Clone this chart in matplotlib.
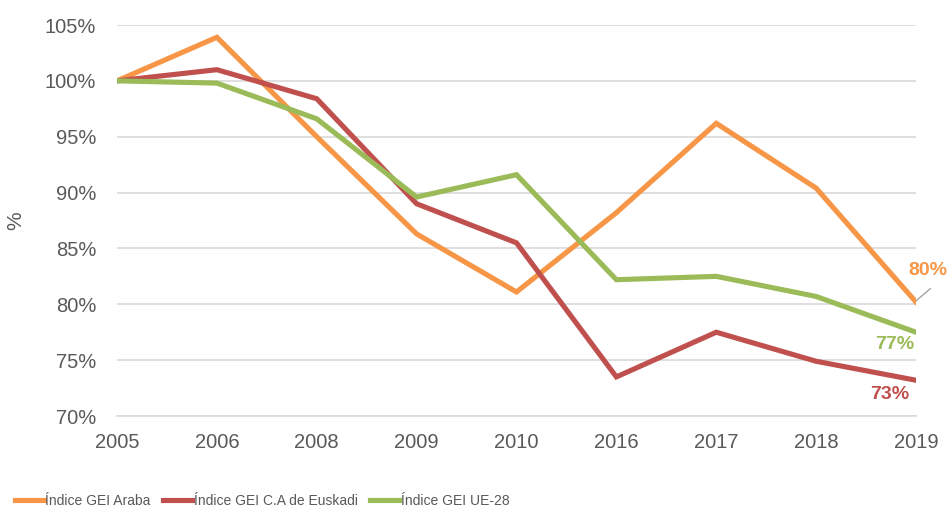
import matplotlib
matplotlib.use("Agg")
import matplotlib.pyplot as plt

years = ["2005", "2006", "2008", "2009", "2010", "2016", "2017", "2018", "2019"]
araba = [100.0, 103.9, 95.0, 86.3, 81.1, 88.2, 96.2, 90.4, 80.2]
euskadi = [100.0, 101.0, 98.4, 89.0, 85.5, 73.5, 77.5, 74.9, 73.2]
ue28 = [100.0, 99.8, 96.6, 89.6, 91.6, 82.2, 82.5, 80.7, 77.5]
series_names = ["Índice GEI Araba", "Índice GEI C.A de Euskadi", "Índice GEI UE-28"]
end_labels = ["80%", "73%", "77%"]

colors = ["#F79646", "#C0504D", "#9BBB59"]
text_grey = "#595959"

plt.rcParams["font.family"] = ["Liberation Sans", "DejaVu Sans"]

fig = plt.figure(figsize=(9.51, 5.09), dpi=100)
ax = fig.add_axes([117 / 951, 1 - 416 / 509, (916 - 117) / 951, (416 - 25) / 509])

x = list(range(len(years)))
lines = []
for vals, c, name in zip([araba, euskadi, ue28], colors, series_names):
    ln, = ax.plot(x, vals, color=c, lw=3.7, label=name, solid_joinstyle="miter", zorder=3)
    lines.append(ln)

ax.set_xlim(0, len(years) - 1)
ax.set_ylim(70, 105)
ax.set_yticks(range(70, 106, 5))
ax.set_yticklabels([f"{v}%" for v in range(70, 106, 5)])
ax.set_xticks(x)
ax.set_xticklabels(years)
ax.yaxis.grid(True, color="#D9D9D9", lw=1.2)
ax.set_axisbelow(True)
for s in ["top", "right", "left"]:
    ax.spines[s].set_visible(False)
ax.spines["bottom"].set_color("#D9D9D9")
ax.spines["bottom"].set_linewidth(1.2)
ax.tick_params(axis="y", length=0, pad=15, labelsize=14.5, labelcolor=text_grey)
ax.tick_params(axis="x", length=0, pad=12, labelsize=14.5, labelcolor=text_grey)
ax.set_ylabel("%", fontsize=15, color=text_grey, labelpad=14)

# end-of-line labels
last = len(years) - 1
ax.plot([last, last + 0.143], [araba[-1] + 0.1, araba[-1] + 1.2], color="#A6A6A6", lw=1, zorder=2, clip_on=False)
ax.annotate(end_labels[0], (last, araba[-1]), xytext=(8.5, 22.5), textcoords="offset points",
            ha="center", va="center", color=colors[0], fontsize=14, fontweight="bold",
            annotation_clip=False)
ax.annotate(end_labels[2], (last, ue28[-1]), xytext=(-1, -9), textcoords="offset points",
            ha="right", va="center", color=colors[2], fontsize=14, fontweight="bold",
            annotation_clip=False)
ax.annotate(end_labels[1], (last, euskadi[-1]), xytext=(-5, -10), textcoords="offset points",
            ha="right", va="center", color=colors[1], fontsize=14, fontweight="bold",
            annotation_clip=False)

fig.legend(handles=lines, loc="center", bbox_to_anchor=(262 / 951, 1 - 501 / 509), ncol=3,
           frameon=False, fontsize=10, labelcolor=text_grey, handlelength=2.1,
           handletextpad=0.1, columnspacing=0.9, borderpad=0, borderaxespad=0)

fig.savefig("out.png", dpi=100)
